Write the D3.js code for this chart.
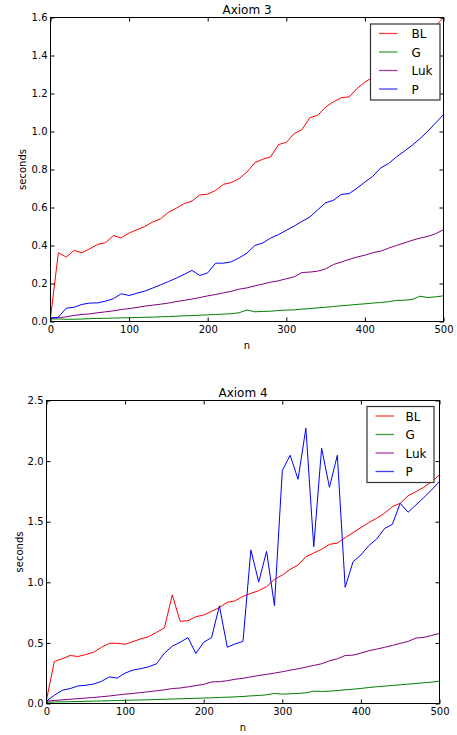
<!DOCTYPE html>
<html>
<head>
<meta charset="utf-8">
<script src="https://cdn.jsdelivr.net/npm/d3@7"></script>
<style>
  body { margin: 0; background: #fff; }
  svg { display: block; font-family: "DejaVu Sans", sans-serif; }
</style>
</head>
<body>
<svg id="svgId"></svg>
<script>
// n values (x axis)
var nValues = d3.range(0, 501, 10);
var seriesNames = ["BL", "G", "Luk", "P"];
var seriesColors = ["#ff0000", "#008000", "#800080", "#0000ff"];

// Axiom 3
var a3BL = [0.02, 0.362, 0.339, 0.374, 0.362, 0.383, 0.406, 0.415, 0.452, 0.44,
    0.466, 0.483, 0.5, 0.524, 0.54, 0.575, 0.596, 0.62, 0.634, 0.666,
    0.67, 0.69, 0.722, 0.731, 0.752, 0.787, 0.836, 0.854, 0.866, 0.931,
    0.943, 0.989, 1.01, 1.073, 1.085, 1.129, 1.156, 1.178, 1.182, 1.226,
    1.26, 1.285, 1.31, 1.34, 1.37, 1.40, 1.44, 1.48, 1.52, 1.555, 1.6];
var a3G = [0.014, 0.013, 0.012, 0.012, 0.013, 0.015, 0.016, 0.017, 0.018, 0.019,
    0.02, 0.021, 0.022, 0.023, 0.025, 0.026, 0.028, 0.03, 0.031, 0.033,
    0.035, 0.037, 0.039, 0.041, 0.046, 0.061, 0.051, 0.053, 0.054, 0.058,
    0.06, 0.061, 0.065, 0.068, 0.072, 0.075, 0.079, 0.083, 0.086, 0.09,
    0.093, 0.097, 0.1, 0.104, 0.111, 0.112, 0.116, 0.133, 0.126, 0.13, 0.135];
var a3Luk = [0.018, 0.019, 0.025, 0.032, 0.037, 0.04, 0.046, 0.051, 0.056, 0.063,
    0.068, 0.074, 0.081, 0.086, 0.091, 0.097, 0.105, 0.111, 0.118, 0.126,
    0.135, 0.142, 0.151, 0.159, 0.17, 0.177, 0.188, 0.197, 0.207, 0.214,
    0.225, 0.235, 0.258, 0.26, 0.265, 0.277, 0.3, 0.313, 0.327, 0.339,
    0.349, 0.362, 0.37, 0.386, 0.4, 0.413, 0.427, 0.439, 0.448, 0.462, 0.483];
var a3P = [0.018, 0.023, 0.07, 0.075, 0.09, 0.097, 0.098, 0.107, 0.12, 0.146,
    0.137, 0.149, 0.16, 0.176, 0.193, 0.21, 0.228, 0.248, 0.269, 0.242,
    0.256, 0.307, 0.307, 0.314, 0.335, 0.36, 0.4, 0.413, 0.439, 0.457,
    0.48, 0.502, 0.527, 0.55, 0.588, 0.625, 0.638, 0.669, 0.673, 0.702,
    0.734, 0.764, 0.808, 0.831, 0.866, 0.896, 0.927, 0.962, 1.001, 1.045, 1.089];

// Axiom 4
var a4BL = [0.03, 0.347, 0.369, 0.396, 0.388, 0.404, 0.423, 0.464, 0.497, 0.497,
    0.489, 0.511, 0.533, 0.552, 0.587, 0.623, 0.896, 0.678, 0.683, 0.716,
    0.73, 0.76, 0.792, 0.835, 0.847, 0.884, 0.909, 0.931, 0.964, 1.024,
    1.06, 1.107, 1.143, 1.211, 1.242, 1.272, 1.313, 1.324, 1.368, 1.41,
    1.451, 1.492, 1.528, 1.569, 1.624, 1.652, 1.713, 1.748, 1.784, 1.831, 1.886];
var a4G = [0.01, 0.012, 0.014, 0.015, 0.017, 0.018, 0.02, 0.021, 0.023, 0.024,
    0.026, 0.028, 0.029, 0.031, 0.033, 0.035, 0.037, 0.039, 0.041, 0.043,
    0.045, 0.047, 0.05, 0.052, 0.055, 0.058, 0.063, 0.066, 0.072, 0.083,
    0.077, 0.08, 0.083, 0.088, 0.102, 0.099, 0.102, 0.107, 0.113, 0.118,
    0.124, 0.132, 0.138, 0.143, 0.149, 0.154, 0.16, 0.165, 0.171, 0.176, 0.184];
var a4Luk = [0.02, 0.025, 0.03, 0.035, 0.04, 0.045, 0.05, 0.056, 0.062, 0.07,
    0.077, 0.083, 0.09, 0.097, 0.105, 0.113, 0.123, 0.128, 0.137, 0.148,
    0.158, 0.178, 0.18, 0.188, 0.2, 0.208, 0.22, 0.231, 0.24, 0.251,
    0.262, 0.275, 0.286, 0.3, 0.314, 0.328, 0.352, 0.369, 0.396, 0.399,
    0.416, 0.435, 0.449, 0.463, 0.479, 0.496, 0.512, 0.54, 0.545, 0.562, 0.578];
var a4P = [0.02, 0.068, 0.109, 0.123, 0.145, 0.15, 0.161, 0.183, 0.219, 0.21,
    0.251, 0.276, 0.287, 0.303, 0.328, 0.415, 0.473, 0.505, 0.544, 0.413,
    0.505, 0.544, 0.806, 0.464, 0.492, 0.512, 1.267, 1.002, 1.256, 0.807,
    1.922, 2.048, 1.85, 2.271, 1.294, 2.106, 1.784, 2.048, 0.958, 1.17,
    1.225, 1.302, 1.357, 1.443, 1.478, 1.652, 1.578, 1.638, 1.699, 1.762, 1.834];

var xTicks = [0, 100, 200, 300, 400, 500];
var a3YTicks = [0, 0.2, 0.4, 0.6, 0.8, 1.0, 1.2, 1.4, 1.6];
var a4YTicks = [0, 0.5, 1.0, 1.5, 2.0, 2.5];

var svg = d3.select("#svgId").attr("width", 457).attr("height", 735);
svg.append("rect").attr("width", 457).attr("height", 735).attr("fill", "#fff");

function drawPanel(p) {
    var x = d3.scaleLinear().domain([0, 500]).range([p.left, p.right]);
    var y = d3.scaleLinear().domain([0, p.yMax]).range([p.bottom, p.top]);
    var g = svg.append("g");

    // lines
    var line = d3.line()
        .x(function (d, i) { return x(nValues[i]) })
        .y(function (d) { return y(d) });
    p.series.forEach(function (s, k) {
        g.append("path")
            .datum(s)
            .attr("fill", "none")
            .attr("stroke", seriesColors[k])
            .attr("stroke-width", 1)
            .attr("stroke-linejoin", "round")
            .attr("d", line);
    });

    // axes, ticks inward on all four sides
    var ax = g.append("g").attr("transform", "translate(0," + p.bottom + ")")
        .call(d3.axisBottom(x).tickValues(xTicks).tickSize(-4).tickPadding(4));
    var axT = g.append("g").attr("transform", "translate(0," + p.top + ")")
        .call(d3.axisTop(x).tickValues(xTicks).tickSize(-4).tickFormat(""));
    var ay = g.append("g").attr("transform", "translate(" + p.left + ",0)")
        .call(d3.axisLeft(y).tickValues(p.yTicks).tickSize(-4).tickPadding(3).tickFormat(d3.format(".1f")));
    var ayR = g.append("g").attr("transform", "translate(" + p.right + ",0)")
        .call(d3.axisRight(y).tickValues(p.yTicks).tickSize(-4).tickFormat(""));
    [ax, axT, ay, ayR].forEach(function (a) {
        a.select(".domain").remove();
        a.selectAll("line").attr("stroke", "#000");
        a.selectAll("text").attr("font-size", 10).attr("fill", "#000")
            .attr("font-family", "DejaVu Sans, sans-serif");
    });

    // frame
    g.append("rect")
        .attr("x", p.left).attr("y", p.top)
        .attr("width", p.right - p.left).attr("height", p.bottom - p.top)
        .attr("fill", "none").attr("stroke", "#000").attr("stroke-width", 1);

    // title and labels
    g.append("text").attr("x", (p.left + p.right) / 2).attr("y", p.top - 3.5)
        .attr("text-anchor", "middle").attr("font-size", 12).text(p.title);
    g.append("text").attr("x", (p.left + p.right) / 2).attr("y", p.bottom + 27)
        .attr("text-anchor", "middle").attr("font-size", 10).text("n");
    g.append("text")
        .attr("transform", "translate(" + p.ylabX + "," + ((p.top + p.bottom) / 2) + ") rotate(-90)")
        .attr("text-anchor", "middle").attr("font-size", 10).text("seconds");

    // legend
    var lg = g.append("g").attr("transform", "translate(" + p.legX + "," + p.legY + ")");
    lg.append("rect").attr("width", p.legW).attr("height", 76)
        .attr("fill", "#fff").attr("stroke", "#333").attr("stroke-width", 1.2);
    seriesNames.forEach(function (name, k) {
        var yy = 9.5 + k * 18.5;
        lg.append("line").attr("x1", 8.5).attr("x2", 27)
            .attr("y1", yy).attr("y2", yy)
            .attr("stroke", seriesColors[k]).attr("stroke-width", 1.3).attr("stroke-opacity", 0.75);
        lg.append("text").attr("x", p.legW - 28.5).attr("y", yy + 4.5)
            .attr("font-size", 12).text(name);
    });
}

drawPanel({
    title: "Axiom 3", left: 50.5, right: 443.5, top: 17.5, bottom: 321.5,
    yMax: 1.6, yTicks: a3YTicks, series: [a3BL, a3G, a3Luk, a3P],
    ylabX: 26, legX: 370.5, legY: 24, legW: 69.5
});
drawPanel({
    title: "Axiom 4", left: 46.5, right: 439.5, top: 400.5, bottom: 703.5,
    yMax: 2.5, yTicks: a4YTicks, series: [a4BL, a4G, a4Luk, a4P],
    ylabX: 22.5, legX: 367, legY: 406.5, legW: 67
});
</script>
</body>
</html>
